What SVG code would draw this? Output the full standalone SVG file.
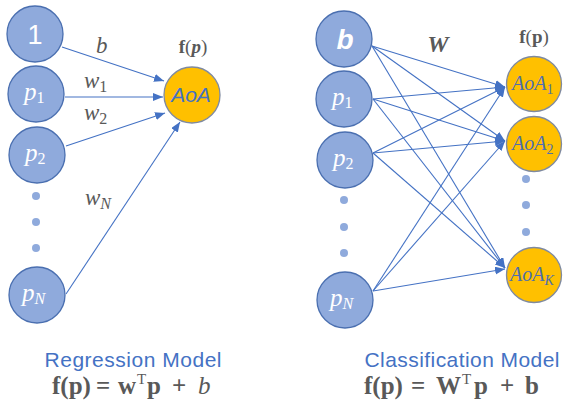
<svg xmlns="http://www.w3.org/2000/svg" width="563" height="406" viewBox="0 0 563 406">
<defs>
<marker id="ah" markerUnits="userSpaceOnUse" markerWidth="11" markerHeight="9" refX="10" refY="4" orient="auto">
<path d="M0,0 L10,4 L0,8 z" fill="#4472C4"/>
</marker>
</defs>
<style>
.in{fill:#8FAADC;stroke:#4A6FB0;stroke-width:1.3}
.out{fill:#FFC000;stroke:#7F8AA0;stroke-width:1.3}
.dot{fill:#8FAADC}
.edge{stroke:#4472C4;stroke-width:1.1;fill:none;marker-end:url(#ah)}
.nt{font-family:"Liberation Serif",serif;font-style:italic;fill:#ffffff;font-size:25px}
.ns{font-family:"Liberation Sans",sans-serif;fill:#ffffff}
.aoa{font-family:"Liberation Serif",serif;font-style:italic;fill:#4F6FAE;font-size:20px}
.lbl{font-family:"Liberation Serif",serif;font-style:italic;fill:#595959;font-size:23px}
.cap{font-family:"Liberation Sans",sans-serif;fill:#4472C4;font-size:21px}
.eq{font-family:"Liberation Serif",serif;font-weight:bold;fill:#595959;font-size:25px}
.fp{font-family:"Liberation Serif",serif;font-weight:bold;fill:#595959;font-size:19px}
</style>

<g id="connectors">
<line class="edge" x1="62" y1="47" x2="164" y2="81"/>
<line class="edge" x1="65" y1="97" x2="163" y2="97"/>
<line class="edge" x1="66" y1="146" x2="165" y2="113"/>
<line class="edge" x1="66" y1="294" x2="180" y2="122"/>

<line class="edge" x1="372" y1="46" x2="505" y2="87"/>
<line class="edge" x1="372" y1="46" x2="505" y2="141"/>
<line class="edge" x1="372" y1="46" x2="505" y2="268"/>
<line class="edge" x1="373" y1="99" x2="505" y2="87"/>
<line class="edge" x1="373" y1="99" x2="505" y2="141"/>
<line class="edge" x1="373" y1="99" x2="505" y2="268"/>
<line class="edge" x1="373" y1="153" x2="505" y2="87"/>
<line class="edge" x1="373" y1="153" x2="505" y2="141"/>
<line class="edge" x1="373" y1="153" x2="505" y2="268"/>
<line class="edge" x1="373" y1="291" x2="505" y2="87"/>
<line class="edge" x1="373" y1="291" x2="505" y2="141"/>
<line class="edge" x1="373" y1="291" x2="505" y2="269"/>
</g>

<g id="reg-one"><circle class="in" cx="35" cy="34" r="28"/><text class="ns" x="35" y="44" font-size="27" text-anchor="middle">1</text></g>
<g id="reg-p1"><circle class="in" cx="36" cy="94" r="28"/><text class="nt" x="24" y="100">p<tspan font-size="16" dy="3" font-style="normal">1</tspan></text></g>
<g id="reg-p2"><circle class="in" cx="37" cy="155" r="28"/><text class="nt" x="25" y="161">p<tspan font-size="16" dy="3" font-style="normal">2</tspan></text></g>
<g id="reg-dots"><circle class="dot" cx="36" cy="196" r="4"/><circle class="dot" cx="36" cy="222" r="4"/><circle class="dot" cx="36" cy="248" r="4"/></g>
<g id="reg-pN"><circle class="in" cx="37" cy="295" r="28"/><text class="nt" x="22" y="301">p<tspan font-size="16" dy="3">N</tspan></text></g>
<g id="reg-aoa"><circle class="out" cx="192" cy="95" r="28"/><text x="191" y="102" font-family="Liberation Sans, sans-serif" font-style="italic" font-size="21" fill="#4472C4" text-anchor="middle">AoA</text></g>

<g id="reg-labels">
<text class="lbl" x="96" y="53">b</text>
<text class="lbl" x="84" y="88">w<tspan font-size="16" dy="4" font-style="normal">1</tspan></text>
<text class="lbl" x="84" y="120">w<tspan font-size="16" dy="4" font-style="normal">2</tspan></text>
<text class="lbl" x="85" y="205">w<tspan font-size="16" dy="4">N</tspan></text>
<text class="fp" x="193" y="53" text-anchor="middle">f<tspan font-weight="normal">(</tspan><tspan font-style="italic">p</tspan><tspan font-weight="normal">)</tspan></text>
</g>

<g id="cls-b"><circle class="in" cx="344" cy="39" r="28"/><text class="ns" x="345" y="49" font-size="28" font-weight="bold" font-style="italic" text-anchor="middle">b</text></g>
<g id="cls-p1"><circle class="in" cx="344" cy="99" r="28"/><text class="nt" x="332" y="105">p<tspan font-size="16" dy="3" font-style="normal">1</tspan></text></g>
<g id="cls-p2"><circle class="in" cx="345" cy="160" r="28"/><text class="nt" x="333" y="166">p<tspan font-size="16" dy="3" font-style="normal">2</tspan></text></g>
<g id="cls-dots"><circle class="dot" cx="344" cy="200" r="4"/><circle class="dot" cx="344" cy="227" r="4"/><circle class="dot" cx="344" cy="253" r="4"/></g>
<g id="cls-pN"><circle class="in" cx="345" cy="300" r="28"/><text class="nt" x="330" y="306">p<tspan font-size="16" dy="3">N</tspan></text></g>

<g id="cls-aoa1"><circle class="out" cx="534" cy="84" r="27.5"/><text class="aoa" x="512" y="90">AoA<tspan font-size="14" dy="4" font-style="normal">1</tspan></text></g>
<g id="cls-aoa2"><circle class="out" cx="534" cy="144" r="27.5"/><text class="aoa" x="512" y="150">AoA<tspan font-size="14" dy="4" font-style="normal">2</tspan></text></g>
<g id="cls-dots-out"><circle class="dot" cx="526" cy="179" r="4"/><circle class="dot" cx="526" cy="205" r="4"/><circle class="dot" cx="526" cy="232" r="4"/></g>
<g id="cls-aoaK"><circle class="out" cx="534" cy="275" r="27.5"/><text class="aoa" x="510" y="281">AoA<tspan font-size="14" dy="4">K</tspan></text></g>

<g id="cls-labels">
<text x="438" y="52" font-family="Liberation Serif, serif" font-weight="bold" font-style="italic" font-size="24" fill="#595959" text-anchor="middle">W</text>
<text class="fp" x="534" y="43" text-anchor="middle">f<tspan font-weight="normal">(</tspan>p<tspan font-weight="normal">)</tspan></text>
</g>

<g id="captions">
<text class="cap" x="133" y="367" text-anchor="middle" textLength="177">Regression Model</text>
<text class="eq" y="394"><tspan x="52">f(p)</tspan><tspan x="96">=</tspan><tspan x="118">w</tspan><tspan x="137" dy="-10" font-size="15" font-weight="normal">T</tspan><tspan x="147" dy="10">p</tspan><tspan x="172">+</tspan><tspan x="198" font-weight="normal" font-style="italic">b</tspan></text>
<text class="cap" x="462" y="367" text-anchor="middle" textLength="195">Classification Model</text>
<text class="eq" y="394"><tspan x="364">f(p)</tspan><tspan x="411">=</tspan><tspan x="436">W</tspan><tspan x="462" dy="-10" font-size="15" font-weight="normal">T</tspan><tspan x="474" dy="10">p</tspan><tspan x="500">+</tspan><tspan x="525">b</tspan></text>
</g>
</svg>
